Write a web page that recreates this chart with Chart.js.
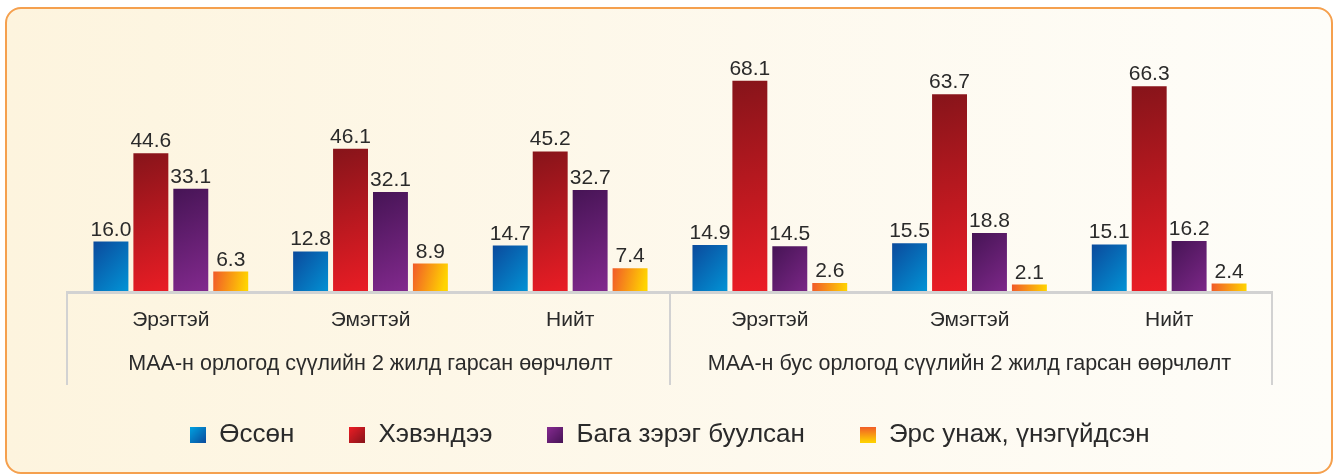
<!DOCTYPE html>
<html>
<head>
<meta charset="utf-8">
<script src="https://cdn.jsdelivr.net/npm/chart.js@4/dist/chart.umd.min.js"></script>
<style>
  body { margin: 0; width: 1335px; height: 476px; background: #fff; position: relative; overflow: hidden; }
  .box {
    position: absolute; left: 5px; top: 7px; width: 1328px; height: 467px;
    box-sizing: border-box; border: 2px solid #F5A04E; border-radius: 16px;
    background: linear-gradient(to right, #FDF4DE, #FEFDF9);
  }
  #myChart { position: absolute; left: 0; top: 0; }
</style>
</head>
<body>
<div class="box"></div>
<canvas id="myChart" width="1335" height="476"></canvas>
<script>
const categories = ["Эрэгтэй", "Эмэгтэй", "Нийт", "Эрэгтэй", "Эмэгтэй", "Нийт"];
const groups = ["МАА-н орлогод сүүлийн 2 жилд гарсан өөрчлөлт", "МАА-н бус орлогод сүүлийн 2 жилд гарсан өөрчлөлт"];
const seriesNames = ["Өссөн", "Хэвэндээ", "Бага зэрэг буулсан", "Эрс унаж, үнэгүйдсэн"];
const increased = [16.0, 12.8, 14.7, 14.9, 15.5, 15.1];
const same = [44.6, 46.1, 45.2, 68.1, 63.7, 66.3];
const slightlyDown = [33.1, 32.1, 32.7, 14.5, 18.8, 16.2];
const sharplyDown = [6.3, 8.9, 7.4, 2.6, 2.1, 2.4];

const FONT = "'Liberation Sans', Arial, sans-serif";
const TEXT = "#2a2a2a";

// gradient stops per series: [from, to, direction]
const colorStops = [
    ["#0B4A9C", "#00A3E2", "diag"],
    ["#86141A", "#EE1D25", "diag"],
    ["#461455", "#872B92", "diag"],
    ["#F15A29", "#FFD400", "horiz"]
];

const catPct = 0.8, barPct = 0.875;

function barGradient(c) {
    const chart = c.chart;
    const stops = colorStops[c.datasetIndex];
    const xs = chart.scales.x, ys = chart.scales.y;
    if (!chart.chartArea || c.dataIndex === undefined || !xs || !ys) return stops[1];
    const n = chart.data.datasets.length;
    const cat = xs.width / categories.length;
    const slot = cat * catPct / n;
    const left = xs.getPixelForValue(c.dataIndex) - cat * catPct / 2 + c.datasetIndex * slot + slot * (1 - barPct) / 2;
    const w = slot * barPct;
    const top = ys.getPixelForValue(c.raw);
    const bot = ys.getPixelForValue(0);
    let g;
    if (stops[2] === "horiz") g = chart.ctx.createLinearGradient(left, top, left + w, top + (bot - top) * 0.3);
    else g = chart.ctx.createLinearGradient(left, top, left + w * 1.5, bot);
    g.addColorStop(0, stops[0]);
    g.addColorStop(1, stops[1]);
    return g;
}

// small gradient squares for the legend
function legendSwatch(i) {
    const cv = document.createElement("canvas");
    cv.width = 16; cv.height = 16;
    const x = cv.getContext("2d");
    let g;
    if (i === 3) { g = x.createLinearGradient(0, 0, 0, 16); g.addColorStop(0, "#F15A29"); g.addColorStop(1, "#FFD400"); }
    else { g = x.createLinearGradient(0, 0, 16, 16); g.addColorStop(0, colorStops[i][1]); g.addColorStop(1, colorStops[i][0]); }
    x.fillStyle = g;
    x.fillRect(0, 0, 16, 16);
    return cv;
}
const swatches = [0, 1, 2, 3].map(legendSwatch);

const valueLabels = {
    id: "valueLabels",
    afterDatasetsDraw(chart) {
        const ctx = chart.ctx;
        ctx.save();
        ctx.font = "21px " + FONT;
        ctx.fillStyle = TEXT;
        ctx.textAlign = "center";
        ctx.textBaseline = "alphabetic";
        chart.data.datasets.forEach((ds, di) => {
            chart.getDatasetMeta(di).data.forEach((bar, i) => {
                ctx.fillText(ds.data[i].toFixed(1), bar.x, bar.y - 6);
            });
        });
        ctx.restore();
    }
};

const groupAxis = {
    id: "groupAxis",
    afterDraw(chart) {
        const ctx = chart.ctx;
        const xs = chart.scales.x;
        const area = chart.chartArea;
        const y0 = area.bottom + 1.5;
        const left = area.left - 4, right = area.right + 3;
        const mid = (xs.getPixelForValue(2) + xs.getPixelForValue(3)) / 2;
        ctx.save();
        ctx.strokeStyle = "#D2D2D2";
        ctx.lineWidth = 3;
        ctx.beginPath();
        ctx.moveTo(left - 1, y0); ctx.lineTo(right + 1, y0);
        ctx.stroke();
        ctx.lineWidth = 2;
        [left, mid, right].forEach(px => {
            ctx.beginPath();
            ctx.moveTo(px, y0); ctx.lineTo(px, 385);
            ctx.stroke();
        });
        ctx.font = "21.5px " + FONT;
        ctx.fillStyle = TEXT;
        ctx.textAlign = "center";
        ctx.textBaseline = "middle";
        ctx.fillText(groups[0], xs.getPixelForValue(1), 364);
        ctx.fillText(groups[1], xs.getPixelForValue(4), 364);
        ctx.restore();
    }
};

const ctx = document.getElementById("myChart").getContext("2d");
const allSeries = [increased, same, slightlyDown, sharplyDown];

const myChart = new Chart(ctx, {
    type: "bar",
    data: {
        labels: categories,
        datasets: allSeries.map((d, i) => ({
            label: seriesNames[i],
            data: d,
            backgroundColor: barGradient,
            categoryPercentage: catPct,
            barPercentage: barPct
        }))
    },
    options: {
        responsive: false,
        animation: false,
        devicePixelRatio: 1,
        layout: { padding: { left: 71, right: 66, top: 44, bottom: 18.5 } },
        scales: {
            x: {
                grid: { display: false, drawTicks: false },
                border: { display: false },
                ticks: { color: TEXT, font: { size: 21, family: FONT }, padding: 17, maxRotation: 0 },
                afterFit: (scale) => { scale.height = 75.5; }
            },
            y: { display: false, min: 0, max: 80 }
        },
        plugins: {
            tooltip: { enabled: false },
            legend: {
                position: "bottom",
                labels: {
                    color: TEXT,
                    font: { size: 26, family: FONT },
                    boxWidth: 16,
                    boxHeight: 16,
                    padding: 55,
                    usePointStyle: true,
                    generateLabels: (chart) => {
                        const items = Chart.defaults.plugins.legend.labels.generateLabels(chart);
                        items.forEach((it, i) => { it.pointStyle = swatches[i]; it.lineWidth = 0; it.strokeStyle = "transparent"; });
                        return items;
                    }
                }
            }
        }
    },
    plugins: [valueLabels, groupAxis]
});
</script>
</body>
</html>
